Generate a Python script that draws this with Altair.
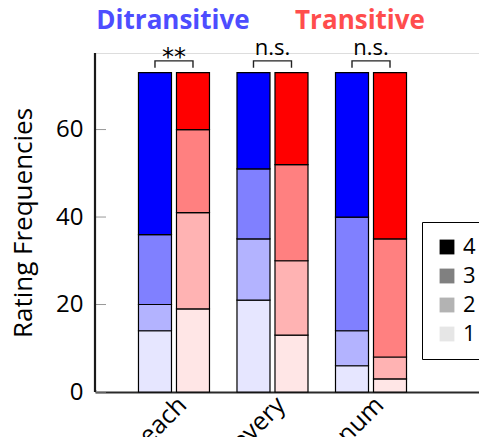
import altair as alt
import pandas as pd

# ---- data ----
groups = ["each", "every", "num"]
types = ["Ditransitive", "Transitive"]
ratings = [1, 2, 3, 4]
# counts for rating 1, 2, 3, 4 (bottom to top)
ditransitive_each = [14, 6, 16, 37]
ditransitive_every = [21, 14, 16, 22]
ditransitive_num = [6, 8, 26, 33]
transitive_each = [19, 22, 19, 13]
transitive_every = [13, 17, 22, 21]
transitive_num = [3, 5, 27, 38]
significance = ["**", "n.s.", "n.s."]
y_ticks = [0, 20, 40, 60]
legend_labels = ["4", "3", "2", "1"]

counts = {
    ("each", "Ditransitive"): ditransitive_each,
    ("every", "Ditransitive"): ditransitive_every,
    ("num", "Ditransitive"): ditransitive_num,
    ("each", "Transitive"): transitive_each,
    ("every", "Transitive"): transitive_every,
    ("num", "Transitive"): transitive_num,
}

# fill colours: blue / red at opacity 0.1, 0.3, 0.5, 1 over white
blue_shades = ["#e6e6ff", "#b3b3ff", "#8080ff", "#0000ff"]
red_shades = ["#ffe6e6", "#ffb3b3", "#ff8080", "#ff0000"]
gray_shades = ["#000000", "#808080", "#b3b3b3", "#e6e6e6"]

rows = []
for g in groups:
    for t in types:
        for r, c in zip(ratings, counts[(g, t)]):
            rows.append({"group": g, "type": t, "rating": r, "count": c, "key": f"{t}{r}"})
bars_df = pd.DataFrame(rows)
fill_domain = [f"Ditransitive{r}" for r in ratings] + [f"Transitive{r}" for r in ratings]
fill_range = blue_shades + red_shades

# bracket annotation levels (data units)
BR_LOW, BR_HIGH = 74.1, 75.7
NS_Y, AST_Y = 77.05, 74.8
br_rows = []
for g in groups:
    for i, (t, lv) in enumerate([("Ditransitive", BR_LOW), ("Ditransitive", BR_HIGH),
                                  ("Transitive", BR_HIGH), ("Transitive", BR_LOW)]):
        br_rows.append({"group": g, "type": t, "val": lv, "idx": i})
br_df = pd.DataFrame(br_rows)
sig_df = pd.DataFrame({"group": groups, "sig": significance})
tick_df = pd.DataFrame({"val": y_ticks})
leg_df = pd.DataFrame({"rating": legend_labels})
spine_df = pd.DataFrame({"lo": [0.0], "hi": [77.5]})

FONT = "Open Sans"
W, H = 384, 339

x_scale = alt.Scale(paddingInner=0, paddingOuter=0.449, align=0.336)
y_scale = alt.Scale(domain=[0, 77.5], nice=False, zero=True)
xo_scale = alt.Scale(paddingInner=0.1316, paddingOuter=0.3618)

x_axis = alt.Axis(title=None, labelAngle=-45, ticks=False, domainColor="#2a2a2a",
                  domainWidth=2, labelFontSize=25, labelColor="black",
                  labelPadding=0, labelFont=FONT)
y_axis = alt.Axis(values=y_ticks, ticks=False, grid=False, domain=False,
                  title="Rating Frequencies",
                  titleFontSize=26, titleFontWeight="normal", titleFont=FONT,
                  titleColor="black", labelFontSize=24, labelFont=FONT,
                  labelColor="black", labelPadding=12, titlePadding=19)

X = alt.X("group:N", sort=groups, scale=x_scale, axis=x_axis)
XO = alt.XOffset("type:N", sort=types, scale=xo_scale)

legend_layer = alt.Chart(leg_df).mark_square(size=1, filled=True).encode(
    x=alt.value(1), y=alt.value(H - 1),
    color=alt.Color("rating:N", sort=legend_labels,
                    scale=alt.Scale(domain=legend_labels, range=gray_shades),
                    legend=alt.Legend(title=None, orient="none", legendX=327, legendY=169,
                                      symbolType="square", symbolSize=220, symbolStrokeWidth=0,
                                      symbolOpacity=1,
                                      labelFontSize=22, labelFont=FONT, labelColor="black",
                                      strokeColor="black", fillColor="white",
                                      padding=14, rowPadding=7, labelOffset=5,
                                      cornerRadius=0)),
)

bars = alt.Chart(bars_df).mark_bar(stroke="black", strokeWidth=1.2).encode(
    x=X,
    xOffset=XO,
    y=alt.Y("count:Q", stack="zero", scale=y_scale, axis=y_axis),
    fill=alt.Fill("key:N", scale=alt.Scale(domain=fill_domain, range=fill_range), legend=None),
    order=alt.Order("rating:Q", sort="ascending"),
)

ticks = alt.Chart(tick_df).mark_rule(color="#999999", strokeWidth=1).encode(
    y=alt.Y("val:Q", scale=y_scale, axis=y_axis),
    x=alt.value(0),
    x2=alt.value(11),
)

y_spine = alt.Chart(spine_df).mark_rule(color="#1a1a1a", strokeWidth=2.2, opacity=1).encode(
    x=alt.value(0),
    y=alt.Y("lo:Q", scale=y_scale, axis=y_axis),
    y2="hi:Q",
)

brackets = alt.Chart(br_df).mark_line(color="#222222", strokeWidth=1.4).encode(
    x=X,
    xOffset=XO,
    y=alt.Y("val:Q", scale=y_scale, axis=y_axis),
    order="idx:Q",
    detail="group:N",
)

ns_text = alt.Chart(sig_df).transform_filter(alt.datum.sig == "n.s.").transform_calculate(
    val=str(NS_Y)
).mark_text(fontSize=22, font=FONT, color="black", baseline="alphabetic").encode(
    x=X,
    y=alt.Y("val:Q", scale=y_scale, axis=y_axis),
    text="sig:N",
)

ast_text = alt.Chart(sig_df).transform_filter(alt.datum.sig == "**").transform_calculate(
    val=str(AST_Y)
).mark_text(fontSize=24, font="DejaVu Sans", color="black", baseline="alphabetic").encode(
    x=X,
    y=alt.Y("val:Q", scale=y_scale, axis=y_axis),
    text="sig:N",
)

title_d = alt.Chart(pd.DataFrame({"t": ["Ditransitive"]})).mark_text(
    fontSize=26, font=FONT, fontWeight="bold", color="#4d4dff", baseline="alphabetic"
).encode(x=alt.value(78), y=alt.value(-24), text="t:N")

title_t = alt.Chart(pd.DataFrame({"t": ["Transitive"]})).mark_text(
    fontSize=26, font=FONT, fontWeight="bold", color="#ff4d4d", baseline="alphabetic"
).encode(x=alt.value(265), y=alt.value(-24), text="t:N")

chart = alt.layer(legend_layer, bars, ticks, brackets, ns_text, ast_text,
                  title_d, title_t, y_spine).properties(
    width=W, height=H,
    autosize=alt.AutoSizeParams(type="none"),
    padding={"left": 87, "top": 45, "right": 0, "bottom": 45},
).configure_view(stroke=None).configure(font=FONT)

chart.save("out.html", embed_options={"renderer": "svg", "actions": False})
